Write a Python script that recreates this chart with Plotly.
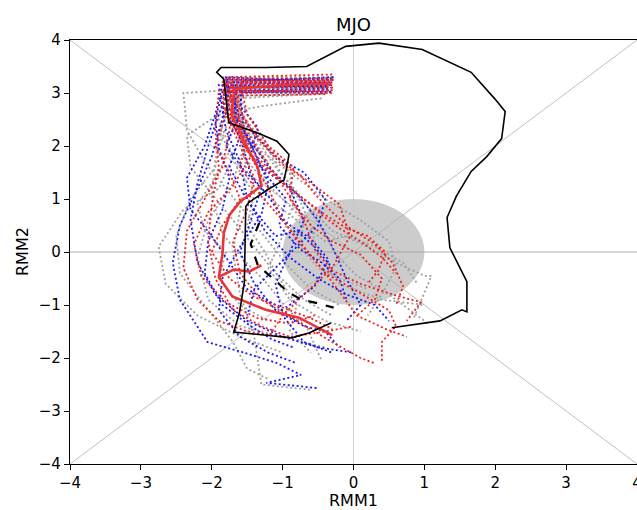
import plotly.graph_objects as go

# ---------------- data (RMM1, RMM2) ----------------
obs_x = [0.54, 1.06, 1.22, 1.53, 1.60, 1.60, 1.36, 1.32, 1.45, 1.66, 1.88, 2.09, 2.14, 2.00, 1.66, 0.97, 0.36, -0.11,
         -0.66, -1.23, -1.87, -1.93, -1.83, -1.76, -1.36, -1.08, -0.91, -0.94, -0.98, -1.22, -1.48, -1.52, -1.54,
         -1.61, -1.69, -0.87, -0.63, -0.32]
obs_y = [-1.43, -1.34, -1.30, -1.09, -1.13, -0.56, 0.08, 0.65, 1.05, 1.52, 1.80, 2.14, 2.65, 2.88, 3.39, 3.82, 3.94, 3.88,
         3.50, 3.48, 3.48, 3.39, 3.26, 2.44, 2.25, 2.09, 1.84, 1.61, 1.36, 1.17, 0.93, 0.86, -0.58,
         -1.15, -1.51, -1.62, -1.53, -1.34]

mean_x = [-1.33, -1.45, -1.35, -1.09, -0.91, -0.73, -0.53, -0.28]
mean_y = [0.55, 0.15, -0.25, -0.56, -0.77, -0.90, -0.96, -1.05]

ctrl_x = [-0.32, -1.00, -1.68, -1.72, -1.55, -1.35, -1.30, -1.60, -1.75, -1.83, -1.85, -1.90, -1.71, -1.24, -0.77, -0.30]
ctrl_y = [3.18, 3.15, 3.08, 2.60, 2.10, 1.60, 1.25, 0.95, 0.70, 0.36, -0.05, -0.47, -0.84, -1.09, -1.24, -1.57]
ctrl2_x = [-1.90, -1.69, -1.47, -1.30]
ctrl2_y = [-0.47, -0.33, -0.37, -0.25]

grey_x = [
    [-0.30, -1.00, -1.80, -2.40, -2.35, -2.10, -1.80, -1.50, -1.20, -0.90, -0.60, -0.20],
    [-0.35, -1.80, -1.90, -1.70, -1.90, -2.40, -2.75, -2.65, -2.20, -1.60, -1.00],
    [-0.28, -1.70, -1.65, -1.30, -1.00, -0.60, -0.30, 0.20, 0.60, 1.00, 1.10, 0.85],
    [-0.40, -1.75, -1.60, -1.50, -1.60, -1.70, -1.60, -1.40, -1.30, -0.60],
    [-0.30, -1.85, -1.75, -1.40, -1.10, -0.80, -0.60, -0.50, -0.20, 0.40, 1.00],
    [-0.30, -1.60, -1.55, -1.70, -2.05, -2.20, -2.05, -1.60, -1.00, -0.40],
    [-0.33, -1.70, -1.50, -1.20, -0.90, -0.85, -1.00, -1.20, -0.90, -0.40, 0.10],
    [-0.45, -1.30, -1.90, -2.35, -2.30, -2.00, -1.70, -1.40, -1.10, -0.70, -0.30],
    [-0.35, -1.65, -1.60, -1.30, -0.80, -0.40, 0.10, 0.50, 0.60, 0.40, 0.20],
    [-0.29, -1.75, -1.85, -1.95, -2.30, -2.50, -2.45, -2.10, -1.70, -1.50, -1.20],
    [-0.38, -1.70, -1.55, -1.25, -1.05, -0.75, -0.45, -0.25, 0.05, 0.45, 0.75, 1.05],
    [-0.42, -1.60, -1.80, -1.95, -2.00, -1.85, -1.55, -1.25, -0.95, -0.65, -0.45],
    [-0.31, -1.20, -1.82, -1.70, -1.45, -1.55, -1.30, -1.00, -0.70, -0.75, -0.50, -0.20, 0.20],
    [-0.36, -1.50, -1.78, -1.90, -1.75, -1.95, -2.20, -2.10, -1.80, -1.90, -1.60, -1.20],
    [-0.30, -1.60, -1.72, -1.50, -1.20, -1.30, -1.00, -0.70, -0.40, -0.10, 0.30, 0.70, 0.90],
    [-0.40, -1.70, -1.65, -1.80, -1.60, -1.40, -1.50, -1.25, -1.05, -0.80, -0.90, -0.60],
]
grey_y = [
    [3.05, 3.00, 3.05, 3.00, 2.30, 1.70, 1.20, 0.70, 0.20, -0.30, -0.70, -1.00],
    [3.20, 3.20, 2.50, 1.80, 1.20, 0.80, 0.10, -0.60, -1.20, -1.60, -1.90],
    [3.25, 3.15, 2.40, 1.80, 1.30, 0.80, 0.40, 0.10, -0.20, -0.45, -0.45, -1.25],
    [3.10, 3.00, 2.20, 1.50, 0.80, 0.00, -0.80, -1.60, -2.50, -2.60],
    [3.30, 3.30, 2.70, 2.20, 1.60, 1.10, 0.50, -0.10, -0.60, -0.90, -1.00],
    [3.00, 2.90, 2.00, 1.30, 0.60, -0.10, -0.90, -1.40, -1.60, -1.80],
    [3.20, 3.25, 2.60, 2.00, 1.50, 0.90, 0.30, -0.30, -0.90, -1.30, -1.50],
    [2.90, 2.75, 2.60, 2.20, 1.60, 1.10, 0.60, 0.10, -0.40, -0.90, -1.20],
    [3.15, 3.10, 2.50, 1.90, 1.40, 1.00, 0.60, 0.20, -0.30, -0.80, -1.20],
    [3.05, 3.05, 2.40, 1.60, 1.00, 0.30, -0.40, -1.00, -1.70, -2.20, -2.40],
    [3.12, 3.12, 2.55, 2.05, 1.55, 1.05, 0.45, -0.05, -0.45, -0.75, -1.05, -1.35],
    [2.98, 2.95, 2.35, 1.75, 1.05, 0.35, -0.15, -0.55, -1.05, -1.45, -2.05],
    [3.28, 3.25, 3.20, 2.70, 2.30, 1.80, 1.40, 1.00, 0.60, 0.10, -0.30, -0.50, -0.70],
    [3.00, 3.02, 2.80, 2.30, 1.90, 1.40, 0.90, 0.40, 0.00, -0.50, -1.00, -1.30],
    [3.18, 3.15, 2.60, 2.10, 1.70, 1.20, 0.80, 0.50, 0.20, 0.30, 0.10, -0.20, -0.60],
    [3.08, 3.10, 2.50, 2.00, 1.50, 1.10, 0.50, 0.00, -0.50, -1.00, -1.50, -1.90],
]

blue_x = [
    [-0.30, -1.80, -1.75, -1.50, -1.20, -0.80, -0.50, -0.30, -0.10, 0.10, -0.10],
    [-0.30, -1.80, -1.85, -2.00, -2.20, -2.45, -2.55, -2.45, -2.06, -1.59, -1.09, -0.74, -1.23, -0.49],
    [-0.28, -1.70, -1.65, -1.40, -1.20, -1.30, -1.60, -1.85, -1.90, -1.60, -1.20, -0.80],
    [-0.30, -1.90, -1.80, -1.60, -1.50, -1.25, -0.90, -0.50, -0.10, 0.30, 0.50],
    [-0.35, -1.60, -1.55, -1.30, -0.90, -0.70, -0.90, -1.10, -1.00, -0.70, -0.30],
    [-0.32, -1.75, -1.90, -2.05, -2.20, -2.30, -2.20, -1.95, -1.50, -1.00, -0.50, 0.00],
    [-0.40, -1.80, -1.70, -1.45, -1.10, -0.70, -0.40, -0.50, -0.80, -1.10, -1.40, -1.50],
    [-0.36, -1.65, -1.70, -1.55, -1.45, -1.20, -0.95, -0.60, -0.35, -0.55, -0.95],
    [-0.44, -1.85, -1.95, -1.90, -1.75, -1.85, -2.05, -2.10, -1.85, -1.45, -1.15, -0.85],
    [-0.34, -1.75, -1.80, -1.60, -1.75, -1.55, -1.35, -1.10, -0.80, -0.55, -0.30],
    [-0.30, -1.55, -1.60, -1.35, -1.45, -1.20, -0.95, -1.05, -0.75, -0.45, -0.20, -0.10],
    [-0.38, -1.85, -1.95, -2.10, -2.35, -2.30, -2.00, -1.75, -1.50, -1.10, -0.80],
    [-0.32, -1.70, -1.62, -1.80, -1.55, -1.30, -1.45, -1.60, -1.40, -1.10, -0.70, -0.40, -0.20],
]
blue_y = [
    [3.25, 3.25, 2.70, 2.20, 1.60, 1.10, 0.60, 0.10, -0.50, -1.00, -1.30],
    [3.10, 3.10, 2.50, 1.80, 1.20, 0.50, -0.20, -0.90, -1.70, -1.88, -2.09, -2.32, -2.47, -2.57],
    [3.30, 3.20, 2.50, 1.90, 1.30, 0.70, 0.10, -0.50, -1.10, -1.60, -1.90, -2.10],
    [3.20, 3.15, 2.30, 1.70, 1.00, 0.40, -0.10, -0.50, -0.80, -1.00, -1.30],
    [3.05, 3.00, 2.30, 1.60, 1.20, 0.60, 0.00, -0.60, -1.20, -1.70, -1.90],
    [3.15, 3.10, 2.60, 2.00, 1.30, 0.60, -0.20, -0.80, -1.30, -1.60, -1.80, -1.90],
    [3.20, 3.30, 2.80, 2.30, 1.80, 1.50, 1.00, 0.50, 0.10, -0.30, -0.70, -1.20],
    [3.08, 3.05, 2.45, 1.95, 1.45, 1.05, 0.55, 0.25, -0.15, -0.65, -1.05],
    [3.00, 3.02, 2.50, 1.95, 1.40, 0.80, 0.20, -0.40, -1.00, -1.40, -1.65, -1.80],
    [3.18, 3.20, 2.60, 2.20, 1.60, 1.10, 0.70, 0.30, 0.40, 0.10, -0.30],
    [3.28, 3.25, 2.75, 2.35, 1.85, 1.40, 1.00, 0.50, 0.05, -0.20, -0.50, -0.90],
    [3.12, 3.15, 2.60, 2.00, 1.40, 0.80, 0.30, -0.20, -0.70, -1.00, -1.30],
    [3.02, 3.05, 2.55, 2.00, 1.55, 1.20, 0.60, 0.00, -0.60, -1.10, -1.40, -1.50, -1.80],
]

red_x = [
    [-0.30, -1.80, -1.75, -1.50, -1.10, -0.70, -0.40, -0.10, 0.20, 0.45, 0.35, 0.20],
    [-0.31, -1.70, -1.75, -1.85, -2.10, -2.35, -2.40, -2.20, -1.90, -1.50, -1.00],
    [-0.29, -1.75, -1.70, -1.45, -1.20, -1.00, -0.70, -0.40, 0.00, 0.50, 0.60, 0.40, 0.40],
    [-0.30, -1.85, -1.80, -1.60, -1.40, -1.50, -1.70, -1.60, -1.30, -0.80, -0.30, 0.10, 0.30],
    [-0.28, -1.60, -1.50, -1.20, -0.85, -0.90, -0.60, -0.30, 0.10, 0.40, 0.30, 0.05],
    [-0.35, -1.90, -1.95, -1.90, -2.00, -2.05, -1.95, -1.70, -1.30, -0.90, -0.40, 0.00],
    [-0.30, -1.75, -1.65, -1.40, -1.05, -0.60, -0.20, -0.05, -0.30, -0.70, -1.00, -1.20],
    [-0.33, -1.80, -1.70, -1.45, -1.20, -0.95, -0.70, -0.55, -0.30, 0.10, 0.55, 0.95, 0.75],
    [-0.40, -1.65, -1.60, -1.45, -1.70, -2.05, -2.25, -2.15, -1.80, -1.35, -0.90, -0.55],
    [-0.29, -1.80, -1.85, -1.60, -1.40, -1.15, -0.90, -0.65, -0.45, -0.20, 0.10, 0.40, 0.60],
    [-0.35, -1.70, -1.80, -1.95, -1.75, -1.60, -1.85, -2.00, -1.75, -1.40, -1.00, -0.60, -0.30],
    [-0.30, -1.65, -1.55, -1.30, -1.05, -0.75, -0.55, -0.30, -0.05, 0.30, 0.55, 0.70, 0.60],
    [-0.42, -1.75, -1.70, -1.50, -1.60, -1.30, -1.00, -0.75, -0.45, -0.20, 0.05, 0.45, 0.75],
]
red_y = [
    [3.20, 3.15, 2.50, 1.90, 1.40, 1.00, 0.70, 0.45, 0.30, 0.00, -0.35, -0.60],
    [3.00, 3.05, 2.30, 1.60, 1.00, 0.40, -0.30, -0.90, -1.30, -1.50, -1.60],
    [3.10, 3.10, 2.40, 1.80, 1.20, 0.60, 0.10, -0.40, -0.70, -1.10, -1.40, -1.70, -2.05],
    [3.15, 3.20, 2.60, 2.00, 1.40, 0.80, 0.20, -0.40, -0.90, -1.30, -1.70, -2.00, -2.10],
    [3.25, 3.20, 2.60, 2.00, 1.60, 1.00, 0.50, 0.20, -0.05, -0.50, -0.90, -1.20],
    [3.05, 3.05, 2.30, 1.60, 0.90, 0.20, -0.50, -1.10, -1.40, -1.60, -1.50, -1.40],
    [3.35, 3.30, 2.80, 2.20, 1.70, 1.30, 0.90, 0.30, -0.30, -0.80, -1.20, -1.60],
    [3.22, 3.25, 2.70, 2.15, 1.65, 1.15, 0.60, 0.05, -0.35, -0.60, -0.80, -0.95, -1.30],
    [2.98, 2.95, 2.35, 1.80, 1.25, 0.75, 0.15, -0.45, -0.95, -1.25, -1.35, -1.20],
    [3.27, 3.28, 2.75, 2.30, 1.85, 1.50, 1.20, 0.95, 0.70, 0.45, 0.20, -0.10, -0.40],
    [3.12, 3.12, 2.60, 2.00, 1.50, 1.00, 0.50, 0.00, -0.50, -0.85, -1.05, -1.25, -1.45],
    [3.05, 3.00, 2.50, 2.10, 1.75, 1.45, 1.10, 0.75, 0.45, 0.15, -0.20, -0.65, -1.00],
    [3.20, 3.22, 2.65, 2.20, 1.60, 1.05, 0.60, 0.15, -0.30, -0.75, -1.20, -1.45, -1.60],
]

axis_ticks = [-4, -3, -2, -1, 0, 1, 2, 3, 4]
title_text = "MJO"
xlabel_text = "RMM1"
ylabel_text = "RMM2"

# ---------------- figure ----------------
fig = go.Figure()

def add_members(xs, ys, color):
    for mx, my in zip(xs, ys):
        fig.add_trace(go.Scatter(x=mx, y=my, mode="lines",
                                 line=dict(color=color, width=1.8, dash="2px,2.5px"),
                                 hoverinfo="skip", showlegend=False))

add_members(grey_x, grey_y, "#a0a0a0")
add_members(blue_x, blue_y, "#1a1aee")
add_members(red_x, red_y, "#ee2222")

fig.add_trace(go.Scatter(x=ctrl_x, y=ctrl_y, mode="lines",
                         line=dict(color="#e83535", width=2.6), showlegend=False))
fig.add_trace(go.Scatter(x=ctrl2_x, y=ctrl2_y, mode="lines",
                         line=dict(color="#e83535", width=2.6), showlegend=False))
fig.add_trace(go.Scatter(x=obs_x, y=obs_y, mode="lines",
                         line=dict(color="black", width=1.6), showlegend=False))
fig.add_trace(go.Scatter(x=mean_x, y=mean_y, mode="lines",
                         line=dict(color="black", width=2.2, dash="dash"), showlegend=False))

# background: unit circle, axes through origin, diagonals
fig.add_shape(type="circle", x0=-1, x1=1, y0=-1, y1=1, xref="x", yref="y",
              fillcolor="#cccccc", line=dict(width=0), layer="below")
for (x0, y0, x1, y1, c) in [(-4, -4, 4, 4, "#b0b0b0"), (-4, 4, 4, -4, "#b0b0b0"),
                            (-4, 0, 4, 0, "#999999"), (0, -4, 0, 4, "#c8c8c8")]:
    fig.add_shape(type="line", x0=x0, y0=y0, x1=x1, y1=y1, xref="x", yref="y",
                  line=dict(color=c, width=0.8), layer="below")

font = "DejaVu Sans"
fig.update_layout(
    width=637, height=510,
    margin=dict(l=70, r=0, t=40, b=46, autoexpand=False),
    plot_bgcolor="white", paper_bgcolor="white",
    font=dict(family=font, size=15, color="black"),
    title=dict(text=title_text, x=0.5, xref="paper", xanchor="center",
               y=1, yref="paper", yanchor="bottom", pad=dict(b=9),
               font=dict(family=font, size=18, color="black")),
    annotations=[
        dict(text=xlabel_text, x=0.5, xref="paper", y=0, yref="paper",
             yanchor="middle", yshift=-36,
             showarrow=False, font=dict(family=font, size=16)),
        dict(text=ylabel_text, x=0, xref="paper", y=0.5, yref="paper",
             xanchor="center", xshift=-48,
             showarrow=False, textangle=-90, font=dict(family=font, size=16)),
    ],
)

fig.update_xaxes(range=[-4, 4], tickvals=axis_ticks, showgrid=False, zeroline=False,
                 showline=True, linecolor="black", linewidth=1.3, mirror=True,
                 ticks="outside", ticklen=5, tickwidth=1.2, tickcolor="black",
                 ticklabeloverflow="allow", automargin=False, tickfont=dict(size=15))
fig.update_yaxes(range=[-4, 4], tickvals=axis_ticks, showgrid=False, zeroline=False,
                 showline=True, linecolor="black", linewidth=1.3, mirror=False,
                 ticks="outside", ticklen=5, tickwidth=1.2, tickcolor="black",
                 automargin=False, tickfont=dict(size=15))

fig.write_html("out.html")
